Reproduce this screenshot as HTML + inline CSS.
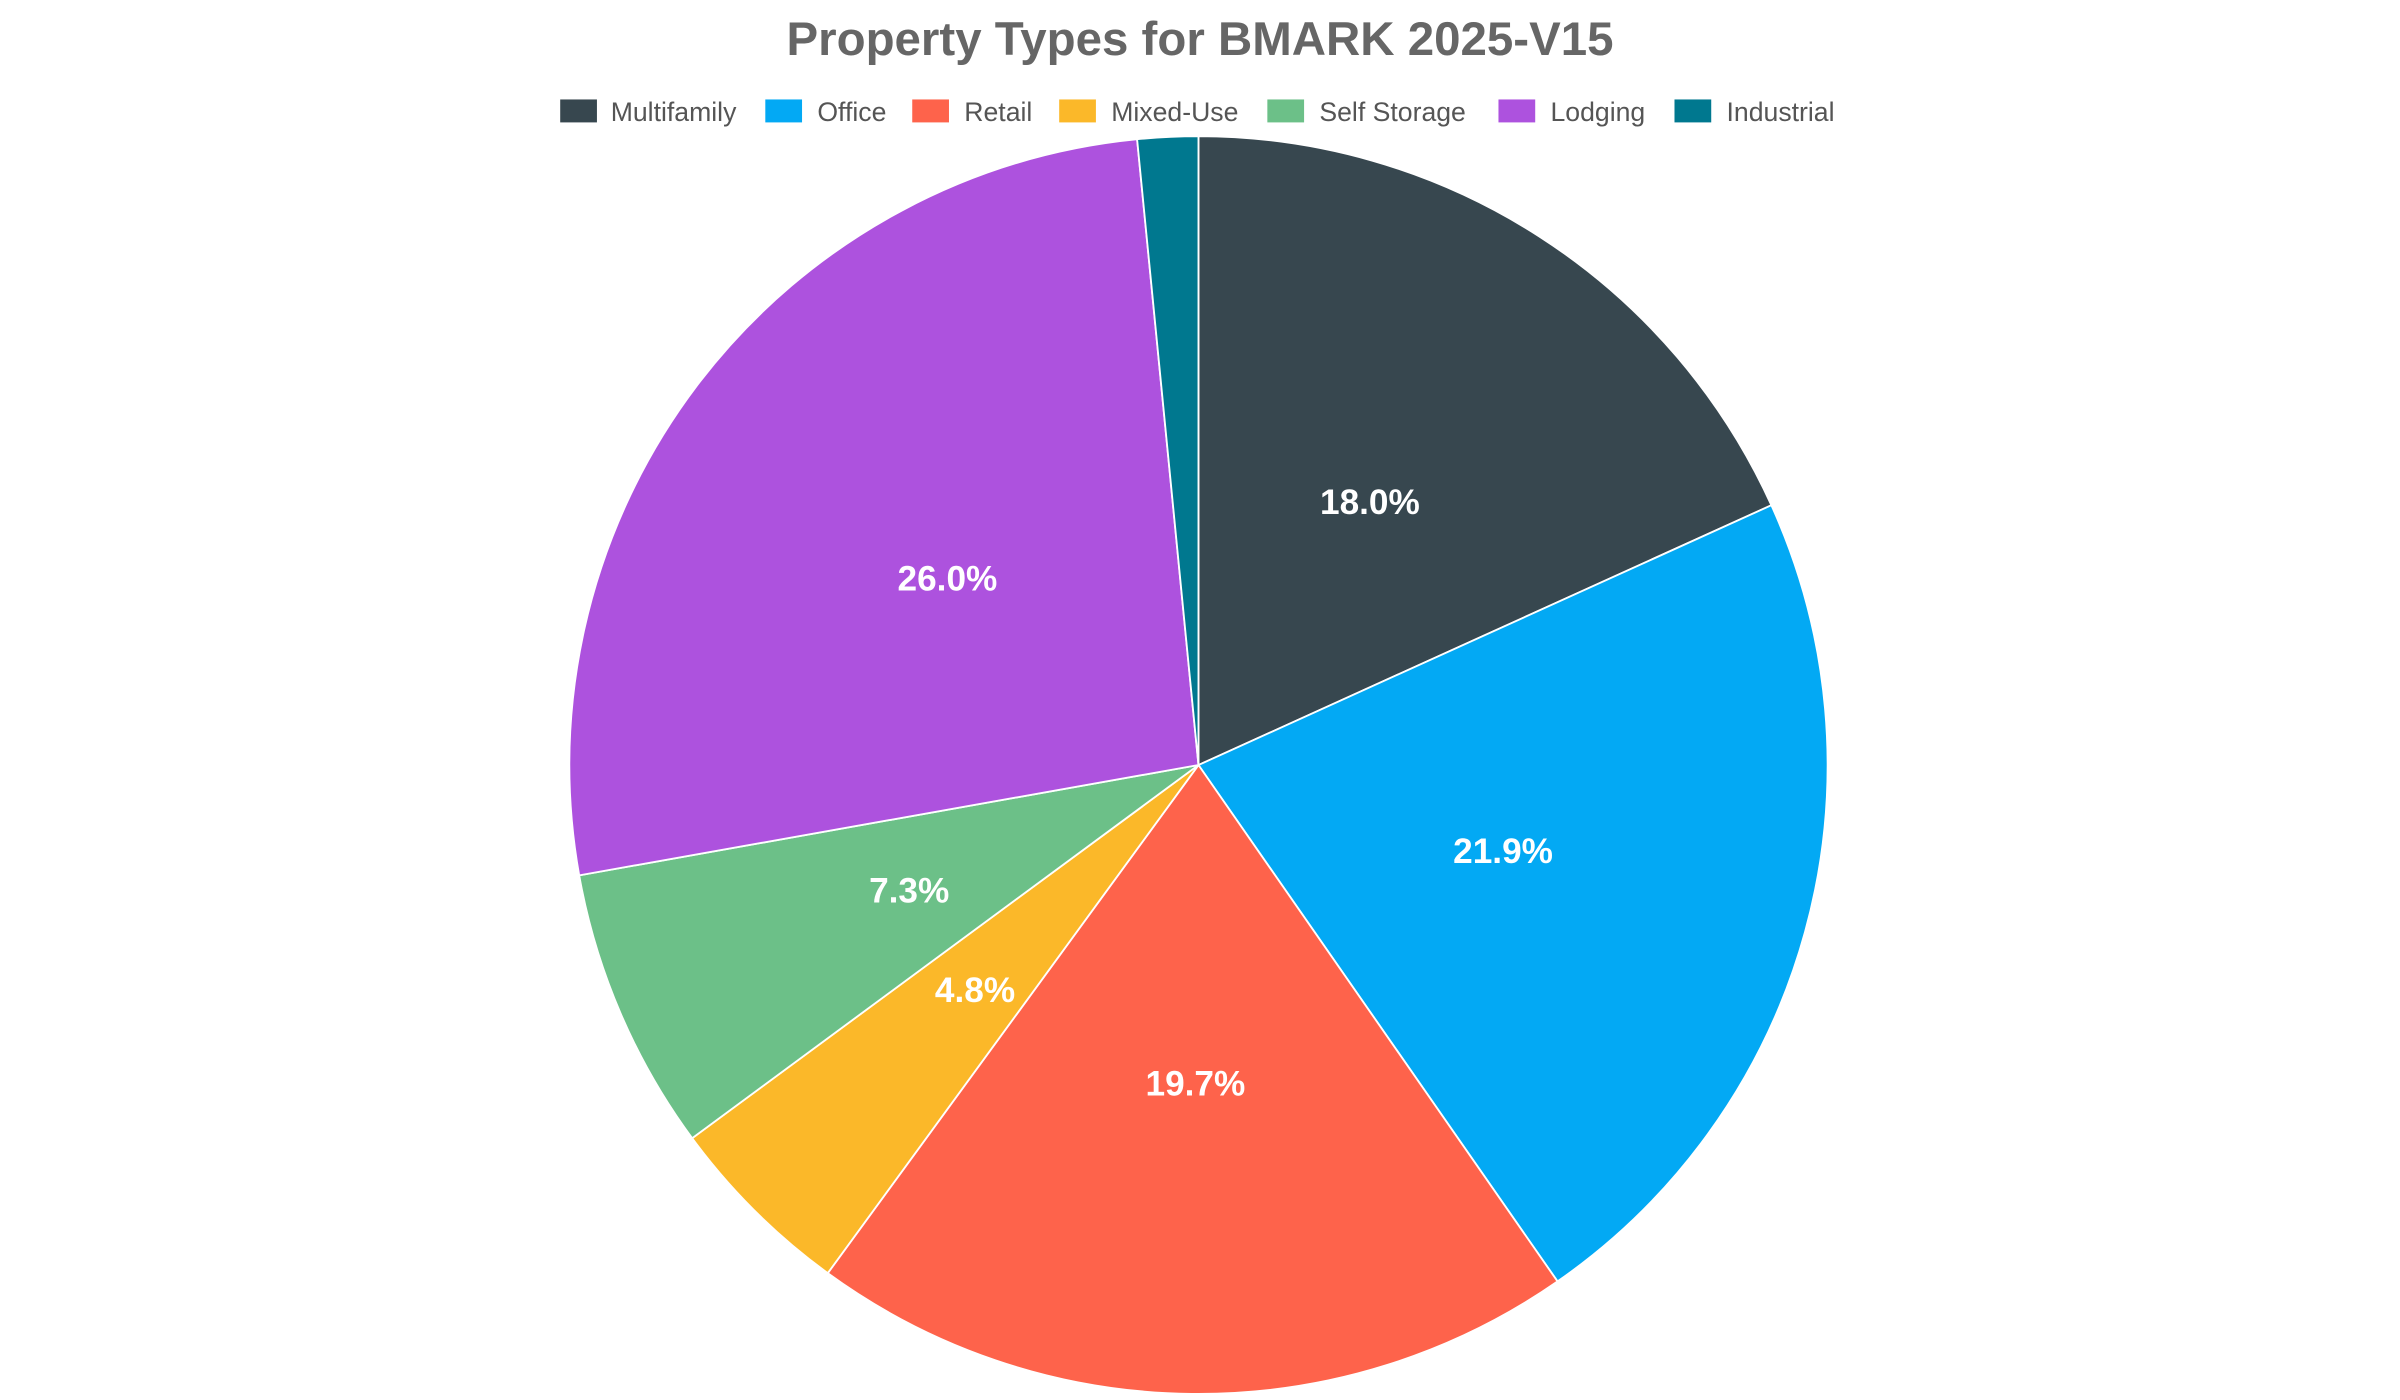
<!DOCTYPE html>
<html><head><style>html,body{margin:0;padding:0;background:#fff}svg{display:block}</style></head>
<body>
<svg width="2400" height="1400" viewBox="0 0 1568 915" preserveAspectRatio="none" xmlns="http://www.w3.org/2000/svg" font-family="Liberation Sans, Arial, sans-serif">
<rect width="1568" height="915" fill="#fff"/>
<text x="784" y="36" text-anchor="middle" font-size="31" font-weight="bold" fill="#666">Property Types for BMARK 2025-V15</text>
<g font-size="17.4" fill="#555">
<rect x="366" y="65" width="24" height="15" fill="#37474f"/><text x="399" y="79">Multifamily</text>
<rect x="500" y="65" width="24" height="15" fill="#03a9f4"/><text x="534" y="79">Office</text>
<rect x="596" y="65" width="24" height="15" fill="#fe634b"/><text x="630" y="79">Retail</text>
<rect x="692" y="65" width="24" height="15" fill="#fbb829"/><text x="726" y="79">Mixed-Use</text>
<rect x="828" y="65" width="24" height="15" fill="#6cc088"/><text x="862" y="79">Self Storage</text>
<rect x="979" y="65" width="24" height="15" fill="#ad52de"/><text x="1013" y="79">Lodging</text>
<rect x="1094" y="65" width="24" height="15" fill="#00788f"/><text x="1128" y="79">Industrial</text>
</g>
<g stroke="#fff" stroke-width="1.2">
<path d="M783,500 L783,89 A411,411 0 0 1 1157.3,330.2 Z" fill="#37474f"/>
<path d="M783,500 L1157.3,330.2 A411,411 0 0 1 1017.6,837.5 Z" fill="#03a9f4"/>
<path d="M783,500 L1017.6,837.5 A411,411 0 0 1 540.8,832.1 Z" fill="#fe634b"/>
<path d="M783,500 L540.8,832.1 A411,411 0 0 1 452.2,743.9 Z" fill="#fbb829"/>
<path d="M783,500 L452.2,743.9 A411,411 0 0 1 378.4,572.1 Z" fill="#6cc088"/>
<path d="M783,500 L378.4,572.1 A411,411 0 0 1 742.9,91 Z" fill="#ad52de"/>
<path d="M783,500 L742.9,91 A411,411 0 0 1 783,89 Z" fill="#00788f"/>
</g>
<g font-size="23" font-weight="bold" fill="#fff" text-anchor="middle">
<text x="895" y="336">18.0%</text>
<text x="982" y="564">21.9%</text>
<text x="781" y="716">19.7%</text>
<text x="637" y="655">4.8%</text>
<text x="594" y="590">7.3%</text>
<text x="619" y="386">26.0%</text>
</g>
</svg>
</body></html>
